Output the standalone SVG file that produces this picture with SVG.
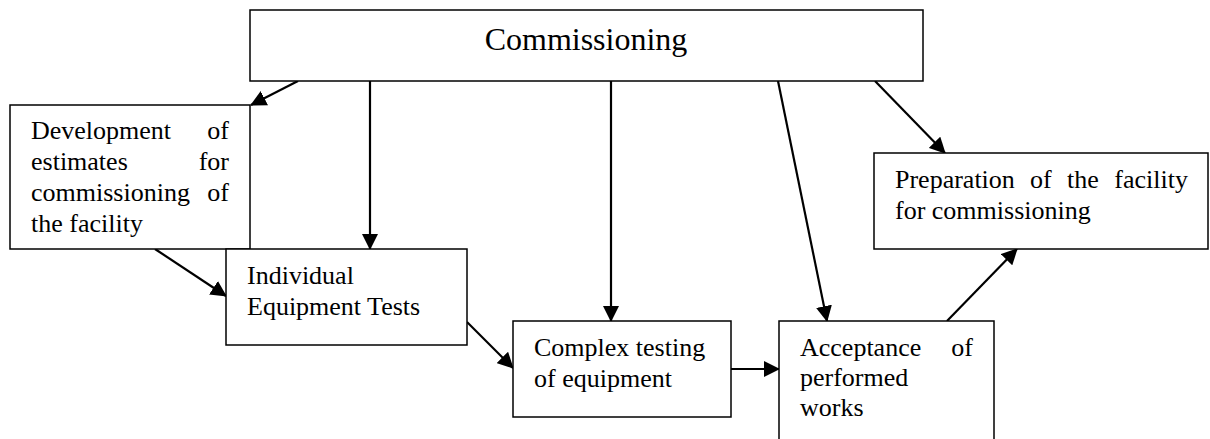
<svg xmlns="http://www.w3.org/2000/svg" width="1210" height="439" viewBox="0 0 1210 439">
<style>
.box{fill:#fff;stroke:#000;stroke-width:1.5}
.t{font-family:"Liberation Serif","Times New Roman",serif;font-size:26px;fill:#000}
.e{text-anchor:end}
.c{stroke:#000;stroke-width:2.2;fill:none;marker-end:url(#ah)}
</style>
<defs>
<marker id="ah" viewBox="0 0 16 16" refX="15" refY="8" markerWidth="16" markerHeight="16" markerUnits="userSpaceOnUse" orient="auto">
<path d="M0,0 L16,8 L0,16 z" fill="#000"/>
</marker>
</defs>
<rect width="1210" height="439" fill="#fff"/>
<g id="connectors">
<line class="c" x1="298" y1="81" x2="251" y2="105"/>
<line class="c" x1="370" y1="81" x2="370" y2="249"/>
<line class="c" x1="611" y1="81" x2="611" y2="321"/>
<line class="c" x1="778" y1="81" x2="827" y2="321"/>
<line class="c" x1="875" y1="81" x2="945" y2="153"/>
<line class="c" x1="947" y1="321" x2="1017" y2="249"/>
<line class="c" x1="155" y1="249" x2="226" y2="296"/>
<line class="c" x1="467" y1="322" x2="513" y2="368"/>
<line class="c" x1="731" y1="369" x2="779" y2="369"/>
</g>
<g id="commissioning">
<rect class="box" x="250" y="10" width="673" height="71"/>
<text class="t" x="586" y="50" text-anchor="middle" style="font-size:32px">Commissioning</text>
</g>
<g id="development">
<rect class="box" x="10" y="105" width="240" height="144"/>
<text class="t" x="31" y="139">Development</text><text class="t e" x="229" y="139">of</text>
<text class="t" x="31" y="170">estimates</text><text class="t e" x="229" y="170">for</text>
<text class="t" x="31" y="201">commissioning</text><text class="t e" x="229" y="201">of</text>
<text class="t" x="31" y="232">the facility</text>
</g>
<g id="individual">
<rect class="box" x="226" y="249" width="241" height="96"/>
<text class="t" x="247" y="284">Individual</text>
<text class="t" x="247" y="315">Equipment Tests</text>
</g>
<g id="complex">
<rect class="box" x="513" y="321" width="218" height="96"/>
<text class="t" x="534" y="356">Complex testing</text>
<text class="t" x="534" y="387">of equipment</text>
</g>
<g id="acceptance">
<rect class="box" x="779" y="321" width="215" height="130"/>
<text class="t" x="800" y="356">Acceptance</text><text class="t e" x="973" y="356">of</text>
<text class="t" x="800" y="386">performed</text>
<text class="t" x="800" y="416">works</text>
</g>
<g id="preparation">
<rect class="box" x="874" y="153" width="334" height="96"/>
<text class="t" x="895" y="188">Preparation</text>
<text class="t" x="1030" y="188">of</text>
<text class="t" x="1067" y="188">the</text>
<text class="t e" x="1188" y="188">facility</text>
<text class="t" x="895" y="219">for commissioning</text>
</g>
</svg>
